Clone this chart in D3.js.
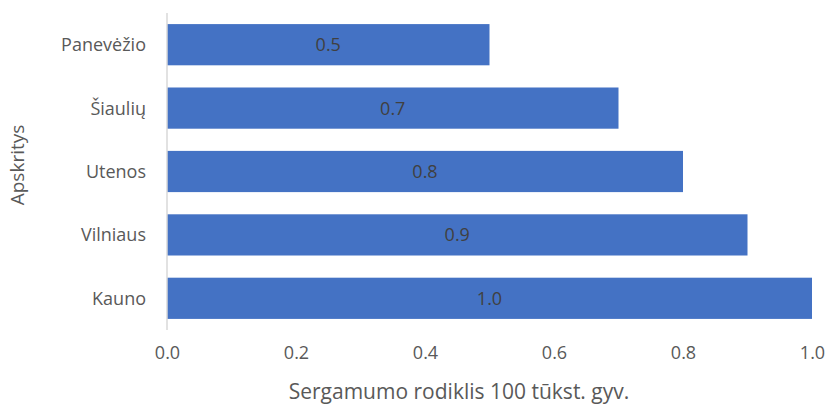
<!DOCTYPE html>
<html>
<head>
<meta charset="utf-8">
<script src="https://cdn.jsdelivr.net/npm/d3@7"></script>
<style>
  body { margin: 0; background: #fff; }
  svg { display: block; font-family: "Open Sans", Lato, sans-serif; }
</style>
</head>
<body>
<div id="chart"></div>
<script>
const categories = ["Panevėžio", "Šiaulių", "Utenos", "Vilniaus", "Kauno"];
const values = [0.5, 0.7, 0.8, 0.9, 1.0];
const xTicks = [0, 0.2, 0.4, 0.6, 0.8, 1.0];

const W = 827, H = 405;
const plot = { left: 167, right: 812, top: 13, bottom: 330 };

const svg = d3.select("#chart").append("svg")
  .attr("width", W)
  .attr("height", H);

const x = d3.scaleLinear().domain([0, 1]).range([plot.left, plot.right]);
const y = d3.scaleBand()
  .domain(categories)
  .range([plot.top, plot.bottom])
  .paddingInner(0.35)
  .paddingOuter(0.175);

// bars
svg.selectAll(".bar")
  .data(values)
  .enter().append("rect")
  .attr("class", "bar")
  .attr("x", x(0))
  .attr("y", (d, i) => y(categories[i]))
  .attr("width", d => x(d) - x(0))
  .attr("height", y.bandwidth())
  .attr("fill", "#4472C4");

// value labels
svg.selectAll(".val")
  .data(values)
  .enter().append("text")
  .attr("x", d => (x(0) + x(d)) / 2)
  .attr("y", (d, i) => y(categories[i]) + y.bandwidth() / 2)
  .attr("dy", "0.36em")
  .attr("text-anchor", "middle")
  .style("fill", "#404040")
  .style("font-size", "18px")
  .text(d => d.toFixed(1));

// y axis line
svg.append("line")
  .attr("x1", x(0)).attr("x2", x(0))
  .attr("y1", plot.top).attr("y2", plot.bottom)
  .attr("stroke", "#d9d9d9")
  .attr("stroke-width", 1.5);

// category labels
svg.selectAll(".cat")
  .data(categories)
  .enter().append("text")
  .attr("x", 146)
  .attr("y", d => y(d) + y.bandwidth() / 2)
  .attr("dy", "0.36em")
  .attr("text-anchor", "end")
  .style("fill", "#595959")
  .style("font-size", "18px")
  .text(d => d);

// x tick labels
const xAxis = svg.append("g")
  .attr("transform", `translate(0,${plot.bottom})`)
  .call(d3.axisBottom(x).tickValues(xTicks).tickFormat(d3.format(".1f")).tickSize(0).tickPadding(16));
xAxis.select(".domain").remove();
xAxis.selectAll("text")
  .style("fill", "#595959")
  .style("font-size", "18px")
  .style("font-family", "'Open Sans', Lato, sans-serif");

// axis titles
svg.append("text")
  .attr("x", 459)
  .attr("y", 399)
  .attr("text-anchor", "middle")
  .style("fill", "#595959")
  .style("font-size", "21px")
  .text("Sergamumo rodiklis 100 tūkst. gyv.");

svg.append("text")
  .attr("transform", "translate(24,165) rotate(-90)")
  .attr("text-anchor", "middle")
  .style("fill", "#595959")
  .style("font-size", "19px")
  .text("Apskritys");
</script>
</body>
</html>
